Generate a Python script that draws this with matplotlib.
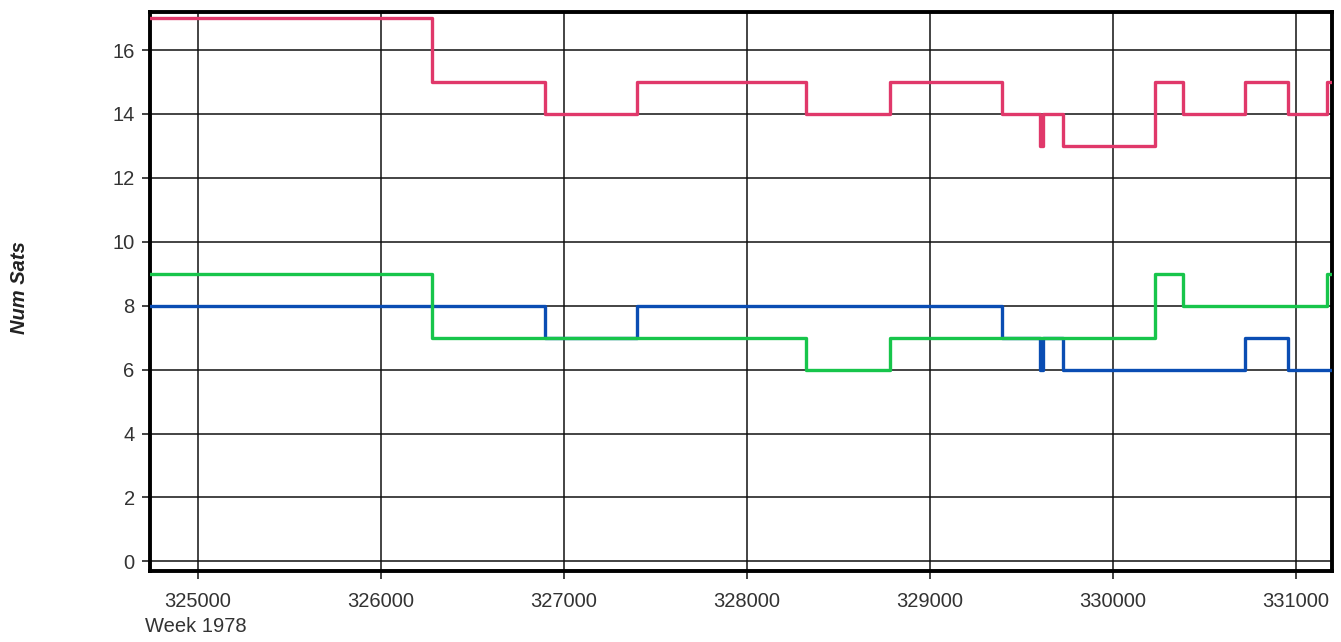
import matplotlib
matplotlib.use("Agg")
import matplotlib.pyplot as plt

plt.rcParams['font.family'] = ['Liberation Sans', 'DejaVu Sans']

# step data (x = seconds of week, value held until next x)
red_x = [324700, 326280, 326895, 327400, 328324, 328783, 329394, 329603, 329618, 329727, 330229, 330382, 330721, 330955, 331168, 331260]
red_y = [17, 15, 14, 15, 14, 15, 14, 13, 14, 13, 15, 14, 15, 14, 15, 15]

blue_x = [324700, 326895, 327400, 329394, 329603, 329618, 329727, 330721, 330955, 331260]
blue_y = [8, 7, 8, 7, 6, 7, 6, 7, 6, 6]

green_x = [324700, 326280, 328324, 328783, 330229, 330382, 331168, 331260]
green_y = [9, 7, 6, 7, 9, 8, 9, 9]

x_ticks = [325000, 326000, 327000, 328000, 329000, 330000, 331000]
y_ticks = [0, 2, 4, 6, 8, 10, 12, 14, 16]

fig = plt.figure(figsize=(13.41, 6.42), dpi=100)
ax = fig.add_axes([150/1341, 1-571/642, (1332-150)/1341, (571-12)/642])

lw = 2.4
ax.step(red_x, red_y, where='post', color='#E0386A', lw=lw, zorder=3)
ax.step(blue_x, blue_y, where='post', color='#0A4DB3', lw=lw, zorder=3)
ax.step(green_x, green_y, where='post', color='#17C54B', lw=lw, zorder=4)

ax.set_xlim(324738, 331196)
ax.set_ylim(-0.3, 17.19)
ax.set_xticks(x_ticks)
ax.set_xticklabels([str(v) for v in x_ticks])
ax.set_yticks(y_ticks)
ax.grid(True, color='#111111', lw=1.1, zorder=1)
ax.set_axisbelow(True)
for s in ax.spines.values():
    s.set_linewidth(2.8)
    s.set_color('black')
ax.tick_params(axis='both', direction='out', length=6, width=1.2, color='#222222',
               labelsize=14.5, labelcolor='#333333')
ax.tick_params(axis='x', pad=9)
ax.tick_params(axis='y', pad=5)

fig.text(20/1341, 1-288/642, 'Num Sats', rotation=90, ha='center', va='center',
         fontsize=14.5, fontweight='bold', fontstyle='italic', color='#222222')
fig.text(196/1341, 1-627/642, 'Week 1978', ha='center', va='center',
         fontsize=14.5, color='#333333')

fig.savefig('out.png', dpi=100)
